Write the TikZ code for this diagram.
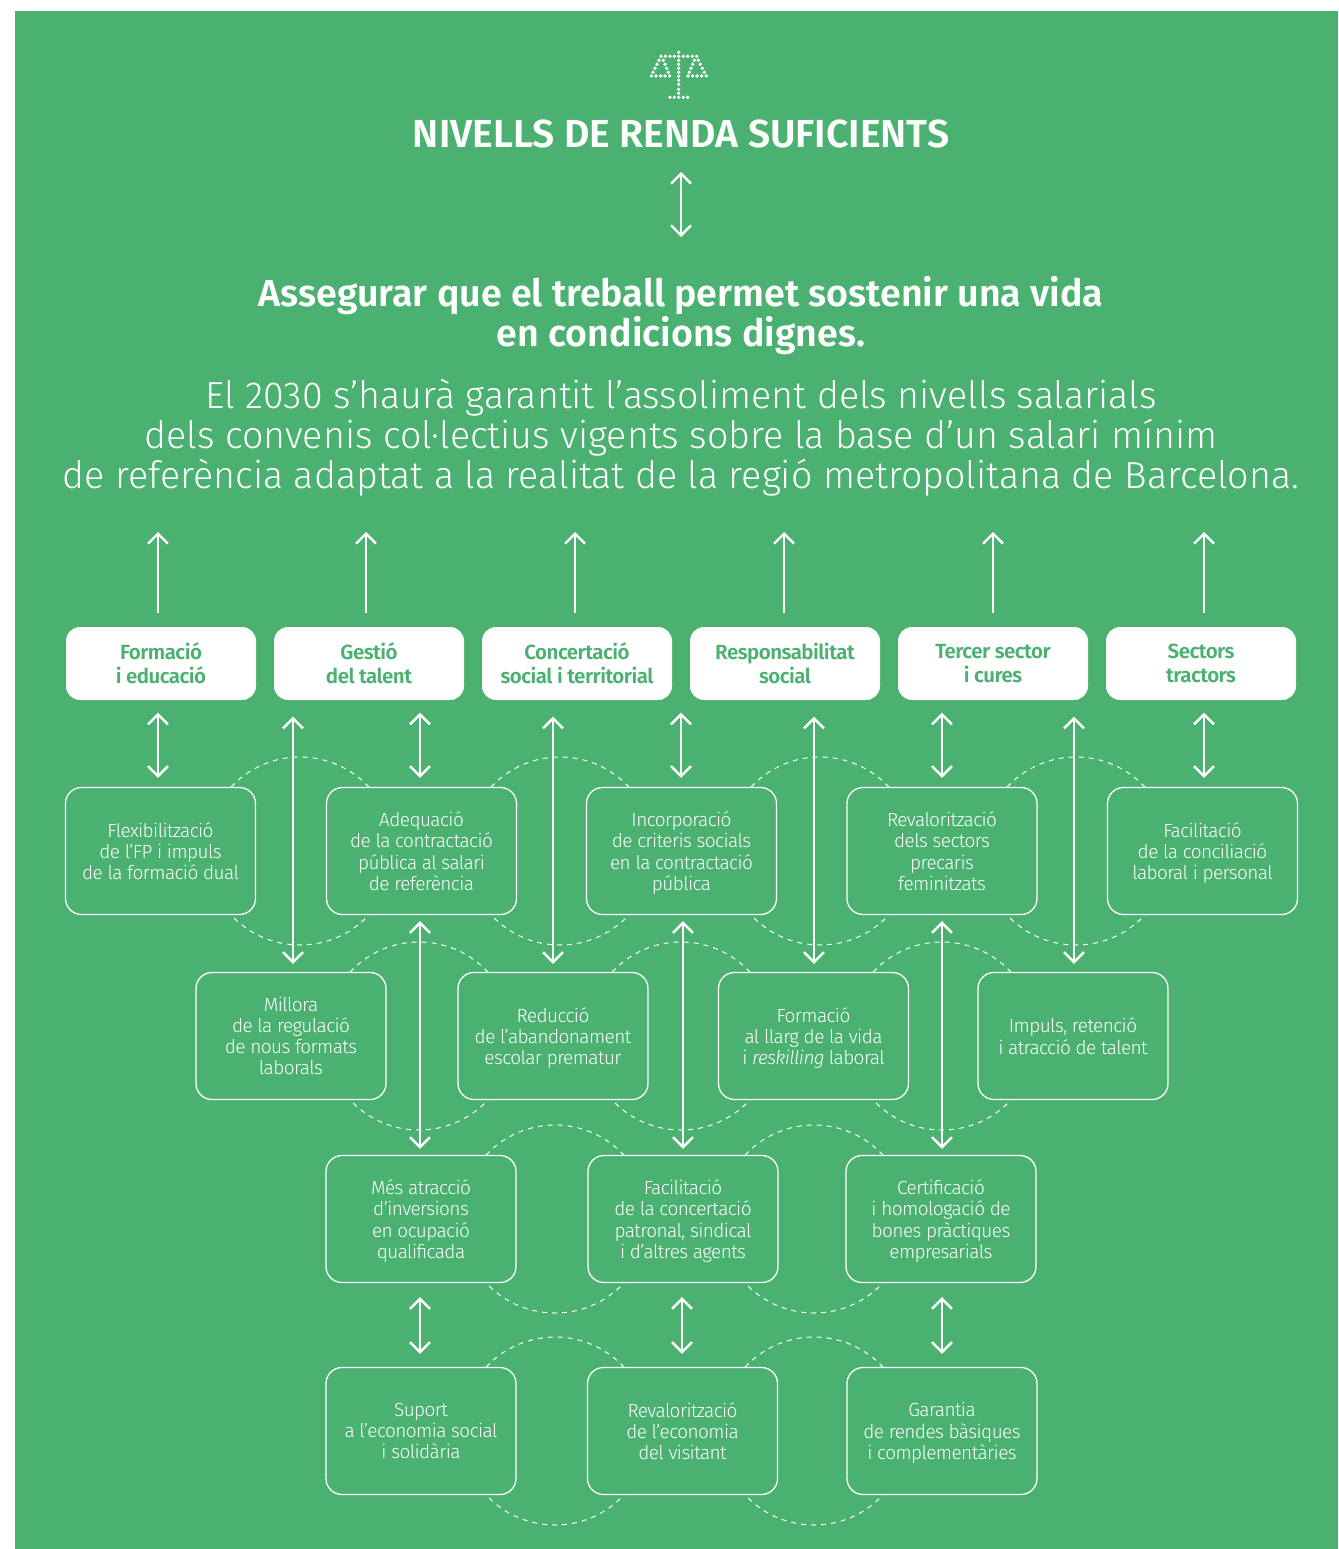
\documentclass[tikz,border=0pt]{standalone}
\usepackage{fontspec}
\setmainfont{Fira Sans Light}[BoldFont={Fira Sans SemiBold},ItalicFont={Fira Sans Light Italic}]
\newfontfamily\caixafont{Fira Sans Light}[LetterSpace=-3,ItalicFont={Fira Sans Light Italic},ItalicFeatures={LetterSpace=-3}]
\newfontfamily\ambitfont{Fira Sans SemiBold}[LetterSpace=-2.5]
\usetikzlibrary{arrows.meta}
\definecolor{verd}{HTML}{4AB170}
\tikzset{
    titol/.style={font=\fontsize{39.1}{40}\selectfont\bfseries,text=white,align=center,inner sep=0pt},
    cos/.style={font=\fontsize{37.6}{40}\selectfont,text=white,align=center,inner sep=0pt},
    ambit/.style={fill=white,text=verd,rounded corners=14pt,minimum width=190pt,minimum height=73pt,inner sep=0pt,align=center,text depth=0pt,font=\ambitfont\fontsize{20.5}{24}\selectfont},
    accio/.style={draw=white,fill=verd,text=white,line width=1.3pt,rounded corners=16pt,minimum width=190pt,minimum height=127pt,inner sep=0pt,align=center,text depth=0pt,font=\caixafont\fontsize{19}{21.2}\selectfont},
    enllac/.style={draw=white,dash pattern=on 5pt off 5pt,line width=1pt},
    fletxa/.style={draw=white,line width=2.4pt,{Straight Barb[length=10pt,width=20pt]}-{Straight Barb[length=10pt,width=20pt]}},
    puja/.style={draw=white,line width=2.4pt,-{Straight Barb[length=10pt,width=20pt]}}
}

\begin{document}
\begin{tikzpicture}[x=1pt,y=-1pt]
    \useasboundingbox (0,0) rectangle (1338,1549);
    \fill[white] (0,0) rectangle (1338,1549);
    \fill[verd] (15,11) rectangle (1338,1549);

    % balance
    \begin{scope}[shift={(600,30)},x=0.3333pt,y=-0.3333pt]
        \foreach \p in {(236,67),(236,79),(236,91),(236,103),(236,115),(236,127),(236,139),(236,151),(236,163),(236,178),(236,190),(236,202),
            (183,79),(196,79),(210,79),(223,79),(250,79),(263,79),(277,79),(290,79),
            (210,202),(223,202),(250,202),(263,202),
            (154,138),(168,138),(182,138),(195,138),(209,138),
            (177,91),(171,103),(165,115),(159,127),(190,91),(195,103),(200,115),(205,127),
            (264,138),(278,138),(291,138),(305,138),(319,138),
            (283,91),(278,103),(273,115),(268,127),(295,91),(301,103),(307,115),(313,127)}
            \fill[white] \p circle (5.5);
    \end{scope}

    \node[titol] (nivells) at (681,134) {NIVELLS DE RENDA SUFICIENTS};
    \node[titol,anchor=north,font=\fontsize{37.6}{40}\selectfont\bfseries] (assegurar) at (681,276) {Assegurar que el treball permet sostenir una vida\\en condicions dignes.};
    \node[cos,anchor=north] (garantir) at (681,379) {El 2030 s’haurà garantit l’assoliment dels nivells salarials\\dels convenis col·lectius vigents sobre la base d’un salari mínim\\de referència adaptat a la realitat de la regió metropolitana de Barcelona.};

    % cercles darrere de les caixes
    \foreach \x/\y in {300/851,560/851,820/851,1076/851,419/1036,681/1036,942/1036,555/1219,814/1219,555/1431,814/1431}
        \draw[enllac] (\x,\y) circle (94pt);

    \node[ambit] (formacio) at (161,663.5) {Formació\\i educació};
    \node[ambit] (gestio) at (369,663.5) {Gestió\\del talent};
    \node[ambit] (concertacio) at (577,663.5) {Concertació\\social i territorial};
    \node[ambit] (responsabilitat) at (785,663.5) {Responsabilitat\\social};
    \node[ambit] (tercer) at (993,663.5) {Tercer sector\\i cures};
    \node[ambit] (sectors) at (1201,663.5) {Sectors\\tractors};

    \node[accio] (flexibilitzacio) at (160.5,851) {Flexibilització\\de l’FP i impuls\\de la formació dual};
    \node[accio] (adequacio) at (421.5,851) {Adequació\\de la contractació\\pública al salari\\de referència};
    \node[accio] (incorporacio) at (681.5,851) {Incorporació\\de criteris socials\\en la contractació\\pública};
    \node[accio] (revaloritzacio) at (942,851) {Revalorització\\dels sectors\\precaris\\feminitzats};
    \node[accio] (conciliacio) at (1202.5,851) {Facilitació\\de la conciliació\\laboral i personal};

    \node[accio] (millora) at (291,1036) {Millora\\de la regulació\\de nous formats\\laborals};
    \node[accio] (reduccio) at (553,1036) {Reducció\\de l’abandonament\\escolar prematur};
    \node[accio] (llarg) at (813.5,1036) {Formació\\al llarg de la vida\\i \textit{reskilling} laboral};
    \node[accio] (impuls) at (1073,1036) {Impuls, retenció\\i atracció de talent};

    \node[accio] (atraccio) at (421,1219) {Més atracció\\d’inversions\\en ocupació\\qualificada};
    \node[accio] (facilitacio) at (683,1219) {Facilitació\\de la concertació\\patronal, sindical\\i d’altres agents};
    \node[accio] (certificacio) at (941,1219) {Certificació\\i homologació de\\bones pràctiques\\empresarials};

    \node[accio] (suport) at (421,1431) {Suport\\a l’economia social\\i solidària};
    \node[accio] (visitant) at (682.5,1431) {Revalorització\\de l’economia\\del visitant};
    \node[accio] (garantia) at (942,1431) {Garantia\\de rendes bàsiques\\i complementàries};

    \draw[fletxa] ([yshift=-38pt]nivells.center) -- ([yshift=39pt]assegurar.north);

    % fletxes cap al text
    \coordinate (dalt) at (0,532);
    \foreach \from/\x in {formacio/158,gestio/366,concertacio/575,responsabilitat/784,tercer/993,sectors/1204} {
        \coordinate (eix) at (\x,0);
        \draw[puja,shorten <=14pt] (eix |- \from.north) -- (eix |- dalt);
    }

    % fletxes dobles
    \foreach \from/\to/\x/\a/\b in {
        formacio/flexibilitzacio/158/12.5/9,
        gestio/adequacio/420/12.5/9,
        concertacio/incorporacio/681/12.5/9,
        tercer/revaloritzacio/942/12.5/9,
        sectors/conciliacio/1204/12.5/9,
        gestio/millora/293/16.5/8,
        concertacio/reduccio/553/16.5/8,
        responsabilitat/llarg/814/16.5/8,
        tercer/impuls/1074/16.5/8,
        adequacio/atraccio/420/6/6,
        incorporacio/facilitacio/683/6/6,
        revaloritzacio/certificacio/942/6/6,
        atraccio/suport/420/14/13,
        facilitacio/visitant/682/14/13,
        certificacio/garantia/942/14/13} {
        \coordinate (eix) at (\x,0);
        \draw[fletxa,shorten <=\a pt,shorten >=\b pt] (eix |- \from.south) -- (eix |- \to.north);
    }
\end{tikzpicture}
\end{document}
